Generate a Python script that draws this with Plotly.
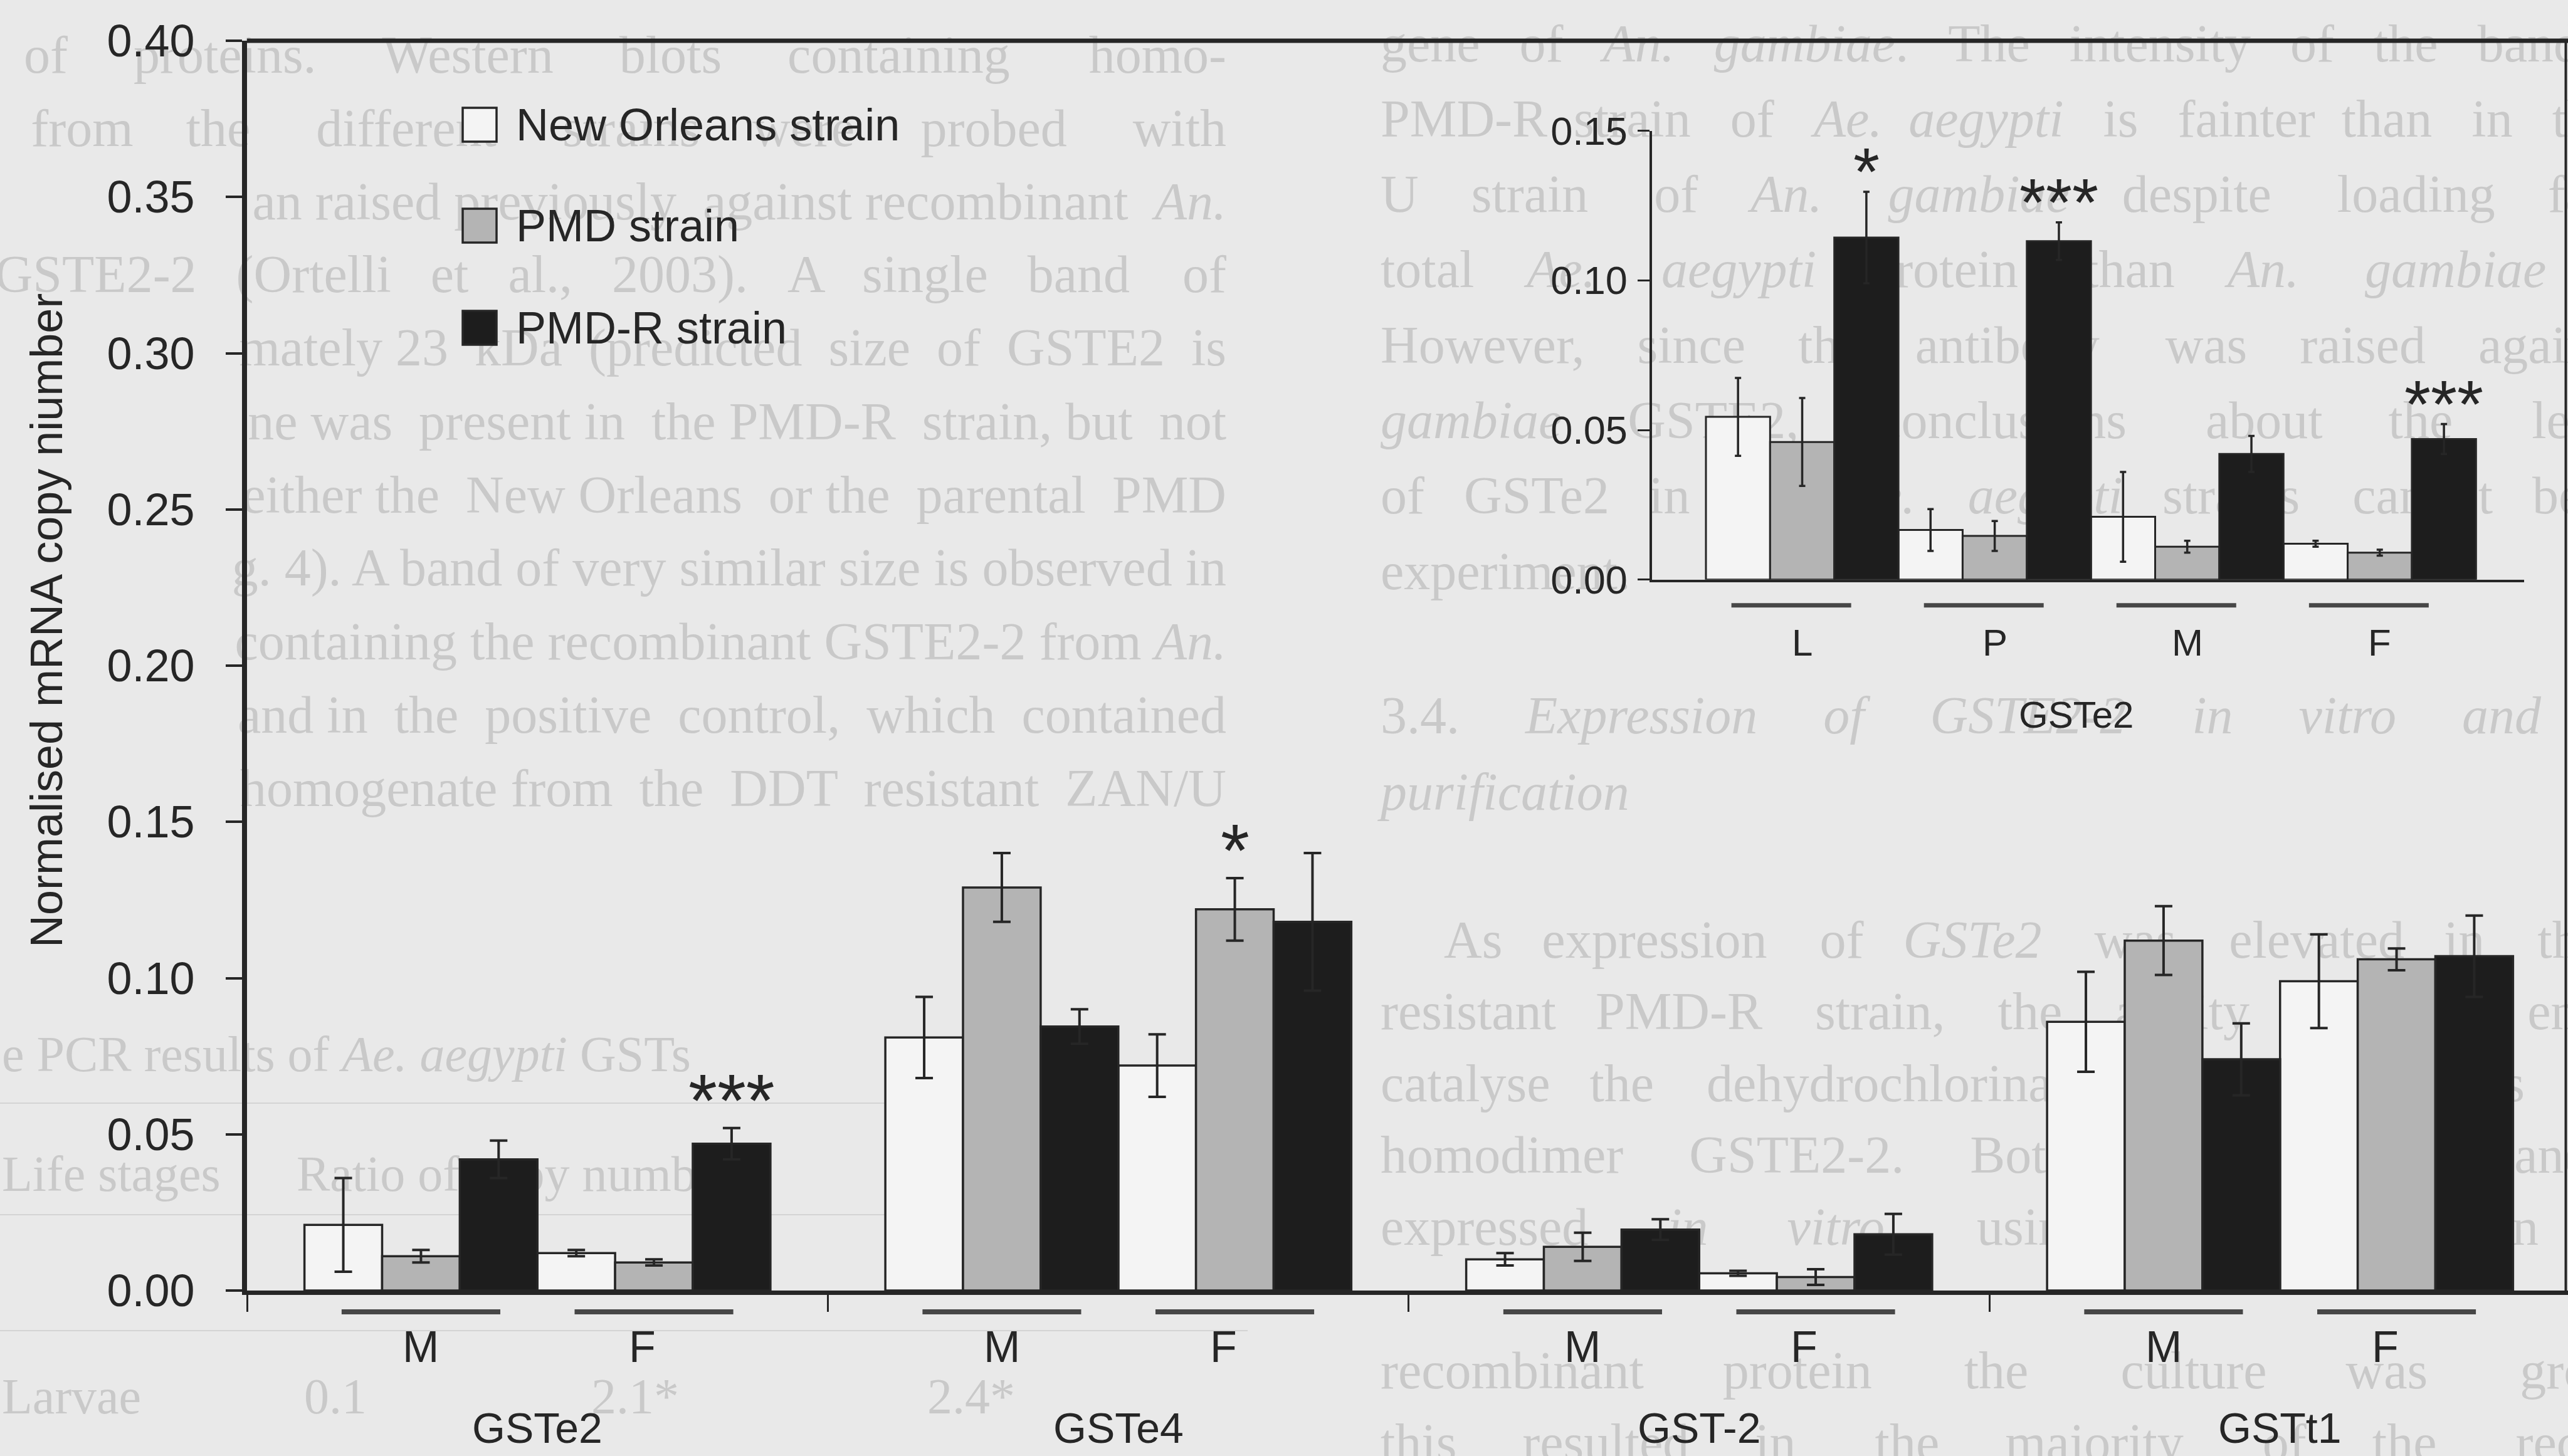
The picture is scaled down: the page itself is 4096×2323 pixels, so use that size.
import re
import plotly.graph_objects as go

# ---------------- data ----------------
genes = ["GSTe2", "GSTe4", "GST-2", "GSTt1"]
sexes = ["M", "F"]
strain_names = ["New Orleans strain", "PMD strain", "PMD-R strain"]

# main panel, ordered GSTe2 M, GSTe2 F, GSTe4 M, GSTe4 F, GST-2 M, GST-2 F, GSTt1 M, GSTt1 F
new_orleans = [0.021, 0.012, 0.081, 0.072, 0.010, 0.0055, 0.086, 0.099]
new_orleans_err = [0.015, 0.001, 0.013, 0.010, 0.002, 0.0008, 0.016, 0.015]
pmd = [0.011, 0.009, 0.129, 0.122, 0.014, 0.0043, 0.112, 0.106]
pmd_err = [0.002, 0.001, 0.011, 0.010, 0.0045, 0.0025, 0.011, 0.0035]
pmd_r = [0.042, 0.047, 0.0845, 0.118, 0.0195, 0.018, 0.074, 0.107]
pmd_r_err = [0.006, 0.005, 0.0055, 0.022, 0.0033, 0.0065, 0.0115, 0.013]
main_signif = [(1, 2, "***"), (3, 1, "*")]  # (gene/sex index, strain index, label)

# inset: GSTe2 through the life stages
stages = ["L", "P", "M", "F"]
inset_new_orleans = [0.0544, 0.0166, 0.021, 0.012]
inset_new_orleans_err = [0.013, 0.007, 0.015, 0.001]
inset_pmd = [0.046, 0.0146, 0.011, 0.009]
inset_pmd_err = [0.0147, 0.005, 0.002, 0.001]
inset_pmd_r = [0.1143, 0.1131, 0.042, 0.047]
inset_pmd_r_err = [0.0153, 0.0063, 0.006, 0.005]
inset_signif = [(0, 2, "*"), (1, 2, "***"), (3, 2, "***")]

main_ticks = [0.0, 0.05, 0.10, 0.15, 0.20, 0.25, 0.30, 0.35, 0.40]
inset_ticks = [0.0, 0.05, 0.10, 0.15]

# page text around the figure
left_text = [
    "of proteins. Western blots containing homo-",
    "from the different strains were probed with",
    "an raised previously against recombinant <i>An.</i>",
    "GSTE2-2 (Ortelli et al., 2003). A single band of",
    "mately 23 kDa (predicted size of GSTE2 is",
    "ne was present in the PMD-R strain, but not",
    "either the New Orleans or the parental PMD",
    "g. 4). A band of very similar size is observed in",
    "containing the recombinant GSTE2-2 from <i>An.</i>",
    "and in the positive control, which contained",
    "homogenate from the DDT resistant ZAN/U",
]
left_measure = [1920, 1907, 1567, 1970, 1567, 1567, 1567, 1567, 1567, 1567, 1567]
right_text = [
    "gene of <i>An. gambiae</i>. The intensity of the band in the",
    "PMD-R strain of <i>Ae. aegypti</i> is fainter than in the ZAN/",
    "U strain of <i>An. gambiae</i> despite loading far more",
    "total <i>Ae. aegypti</i> protein than <i>An. gambiae</i> protein.",
    "However, since the antibody was raised against <i>An.</i>",
    "<i>gambiae</i> GSTE2, conclusions about the levels of",
    "of GSTe2 in the <i>Ae. aegypti</i> strains cannot be drawn",
    "experiment.",
]
heading_text = ["3.4. <i>Expression of GSTE2-2 in vitro and protein</i>", "<i>purification</i>"]
para_text = [
    "As expression of <i>GSTe2</i> was elevated in the DDT",
    "resistant PMD-R strain, the ability of this enzyme to",
    "catalyse the dehydrochlorination of DDT was examined",
    "homodimer GSTE2-2. Both the PMD-R and PMD",
    "expressed <i>in vitro</i> using the expression system",
    "recombinant protein the culture was grown at",
    "this resulted in the majority of the recombinant",
]
table_caption = "e PCR results of <i>Ae. aegypti</i> GSTs"
table_header = ["Life stages", "Ratio of copy number"]
table_row = ["Larvae", "0.1", "2.1*", "2.4*"]

# ---------------- styling ----------------
W, H = 4096, 2323
PL, PR, PT, PB = 394, 4096, 65, 2059
BG = "#e9e9e9"
INK = "#262626"
FAINT = "#c9c9c9"
SANS = "Liberation Sans, Arial, sans-serif"
SERIF = "Liberation Serif, Times New Roman, serif"
fills = ["#f4f4f4", "#b4b4b4", "#1d1d1d"]
BW = 0.1337  # bar width in group units
INSET_DOM_X = [0.60548, 0.98114]
INSET_DOM_Y = [0.5688, 0.9280]
BODY = 84

# approximate serif advance widths (em) used to space justified lines
SERIF_W = dict(zip("abcdefghijklmnopqrstuvwxyz",
                   [.444, .5, .444, .5, .444, .333, .5, .5, .278, .278, .5, .278, .778,
                    .5, .5, .5, .5, .333, .389, .278, .5, .5, .722, .5, .5, .444]))
SERIF_W.update(dict(zip("ABCDEFGHIJKLMNOPQRSTUVWXYZ",
                        [.722, .667, .667, .722, .611, .556, .722, .722, .333, .389, .722,
                         .611, .889, .722, .722, .556, .722, .667, .556, .611, .722, .722,
                         .944, .722, .722, .611])))
SERIF_W.update({" ": .25, ".": .25, ",": .25, "(": .333, ")": .333, "-": .333,
                "/": .278, "*": .5})


def serif_width(text, size):
    plain = re.sub(r"<[^>]+>", "", text)
    return sum(SERIF_W.get(c, .5) for c in plain) * size


def justify(text, size, target):
    extra = target - serif_width(text, size)
    parts = text.split(" ")
    gaps = len(parts) - 1
    if extra <= 0 or gaps == 0:
        return text
    n = int(round(extra / (0.25 * size)))
    out = parts[0]
    for gi, p in enumerate(parts[1:]):
        k = n * (gi + 1) // gaps - n * gi // gaps
        out += " " + "\u00a0" * k + p
    return out


def px(X):
    return (X - PL) / (PR - PL)


def py(Y):
    return (PB - Y) / (PB - PT)


def main_x(i, k):
    g, s = divmod(i, 2)
    return g + (3 * s + k - 2.5) * BW


def inset_x(j, k):
    return 3 * j + k


fig = go.Figure()

main_vals = [new_orleans, pmd, pmd_r]
main_errs = [new_orleans_err, pmd_err, pmd_r_err]
for k in range(3):
    fig.add_trace(go.Bar(
        x=[main_x(i, k) for i in range(8)], y=main_vals[k], width=BW,
        marker=dict(color=fills[k], line=dict(color=INK, width=3.5)),
        error_y=dict(type="data", array=main_errs[k], color=INK, thickness=4, width=14),
        name=strain_names[k], showlegend=False, xaxis="x", yaxis="y"))

inset_vals = [inset_new_orleans, inset_pmd, inset_pmd_r]
inset_errs = [inset_new_orleans_err, inset_pmd_err, inset_pmd_r_err]
for k in range(3):
    fig.add_trace(go.Bar(
        x=[inset_x(j, k) for j in range(4)], y=inset_vals[k], width=1,
        marker=dict(color=fills[k], line=dict(color=INK, width=3)),
        error_y=dict(type="data", array=inset_errs[k], color=INK, thickness=3.5, width=5),
        name=strain_names[k], showlegend=False, xaxis="x2", yaxis="y2"))

shapes = []
annotations = []


def bg_line(text, X, Y, anchor="left", size=BODY):
    if anchor == "left":
        x0, x1, pos = px(X), px(X + 50), "middle left"
    else:
        x0, x1, pos = px(X - 50), px(X), "middle right"
    shapes.append(dict(
        type="rect", xref="paper", yref="paper", x0=x0, x1=x1,
        y0=py(Y + 10), y1=py(Y - 10), layer="below",
        line=dict(width=0), fillcolor="rgba(0,0,0,0)",
        label=dict(text=text, textposition=pos, padding=0,
                   font=dict(family=SERIF, size=size, color=FAINT))))


COL = 2230  # column measure in px
for i, (t, m) in enumerate(zip(left_text, left_measure)):
    bg_line(justify(t, BODY, m), 1959, 78 + i * 117, anchor="right")
for i, t in enumerate(right_text):
    last = i == len(right_text) - 1
    bg_line(t if last else justify(t, BODY, COL), 2199, 60 + i * 120.3)
bg_line(justify(heading_text[0], BODY, COL), 2199, 1132)
bg_line(heading_text[1], 2199, 1254)
for i, t in enumerate(para_text):
    row = i if i < 5 else i + 1
    indent = 101 if i == 0 else 0
    bg_line(justify(t, BODY, COL - indent), 2199 + indent, 1490 + row * 114.6)
bg_line(table_caption, 0, 1673, size=80)
bg_line(table_header[0], 0, 1864, size=80)
bg_line(table_header[1], 470, 1864, size=80)
for t, X in zip(table_row, [0, 482, 940, 1476]):
    bg_line(t, X, 2219, size=80)
for Y in [1760, 1938, 2123]:
    shapes.append(dict(type="line", xref="paper", yref="paper", x0=px(0), x1=px(1990),
                       y0=py(Y), y1=py(Y), layer="below",
                       line=dict(color="#d4d4d4", width=2)))

# frame: top edge and right edge of the main panel
shapes.append(dict(type="line", xref="paper", yref="paper", x0=0, x1=1, y0=1, y1=1,
                   line=dict(color=INK, width=7)))
shapes.append(dict(type="line", xref="paper", yref="paper", x0=px(4092.5), x1=px(4092.5),
                   y0=0, y1=1, line=dict(color=INK, width=4)))

# main panel category underlines and labels
main_under_y = -34 / (PB - PT)
for g, gene in enumerate(genes):
    for s, sex in enumerate(sexes):
        c = g + (3 * s - 1.5) * BW
        shapes.append(dict(type="line", xref="x", yref="paper", x0=c - 0.1366, x1=c + 0.1366,
                           y0=main_under_y, y1=main_under_y,
                           line=dict(color="#474747", width=8)))
        annotations.append(dict(x=c - 0.02 * s, y=0, xref="x", yref="y", text=sex,
                                showarrow=False, yshift=-90, yanchor="middle",
                                font=dict(family=SANS, size=70, color=INK)))
    annotations.append(dict(x=g, y=0, xref="x", yref="y", text=gene, showarrow=False,
                            yshift=-219, yanchor="middle",
                            font=dict(family=SANS, size=68, color=INK)))

# inset category underlines and labels
inset_under_y = INSET_DOM_Y[0] - 41 / (PB - PT)
for j, st in enumerate(stages):
    c = 3 * j + 1
    shapes.append(dict(type="line", xref="x2", yref="paper",
                       x0=c - 0.17 - 0.933, x1=c - 0.17 + 0.933,
                       y0=inset_under_y, y1=inset_under_y,
                       line=dict(color="#474747", width=7)))
    annotations.append(dict(x=c, y=0, xref="x2", yref="y2", text=st, showarrow=False,
                            yshift=-101, yanchor="middle",
                            font=dict(family=SANS, size=60, color=INK)))
annotations.append(dict(x=5.27, y=0, xref="x2", yref="y2", text="GSTe2", showarrow=False,
                        yshift=-216, yanchor="middle",
                        font=dict(family=SANS, size=60, color=INK)))

# significance marks
for i, k, lab in main_signif:
    annotations.append(dict(x=main_x(i, k), y=main_vals[k][i] + main_errs[k][i],
                            xref="x", yref="y", text=lab, showarrow=False,
                            yanchor="middle", yshift=44,
                            font=dict(family=SANS, size=118, color=INK)))
for j, k, lab in inset_signif:
    annotations.append(dict(x=inset_x(j, k), y=inset_vals[k][j] + inset_errs[k][j],
                            xref="x2", yref="y2", text=lab, showarrow=False,
                            yanchor="middle", yshift=32,
                            font=dict(family=SANS, size=108, color=INK)))

# legend
for k, (name, Y) in enumerate(zip(strain_names, [199, 360, 523])):
    shapes.append(dict(type="rect", xref="paper", yref="paper",
                       x0=px(738), x1=px(792), y0=py(Y + 27), y1=py(Y - 27),
                       fillcolor=fills[k], line=dict(color=INK, width=3.5)))
    annotations.append(dict(x=px(821), y=py(Y), xref="paper", yref="paper", text=name,
                            showarrow=False, xanchor="left", yanchor="middle",
                            font=dict(family=SANS, size=72, color=INK)))

# y-axis title
annotations.append(dict(x=px(74), y=py(990), xref="paper", yref="paper",
                        text="Normalised mRNA copy niumber", textangle=-90,
                        showarrow=False, xanchor="center", yanchor="middle",
                        font=dict(family=SANS, size=72, color=INK)))

fig.update_layout(
    width=W, height=H,
    margin=dict(l=PL, r=W - PR, t=PT, b=H - PB, pad=0),
    paper_bgcolor=BG, plot_bgcolor="rgba(0,0,0,0)",
    barmode="overlay", showlegend=False,
    font=dict(family=SANS, color=INK),
    xaxis=dict(domain=[0, 1], range=[-0.5, 3.4957], showline=True, linecolor=INK,
               linewidth=7, ticks="outside", tickvals=[-0.5, 0.5, 1.5, 2.5],
               ticklen=27, tickwidth=3, tickcolor=INK, showticklabels=False,
               showgrid=False, zeroline=False),
    yaxis=dict(domain=[0, 1], range=[0, 0.40], showline=True, linecolor=INK,
               linewidth=8, ticks="outside", tickvals=main_ticks, tickformat=".2f",
               ticklen=26, tickwidth=4, tickcolor=INK, ticklabelstandoff=35,
               tickfont=dict(family=SANS, size=72, color=INK),
               showgrid=False, zeroline=False),
    xaxis2=dict(domain=INSET_DOM_X, anchor="y2", range=[-1.3353, 12.251],
                showline=True, linecolor=INK, linewidth=4, ticks="",
                showticklabels=False, showgrid=False, zeroline=False),
    yaxis2=dict(domain=INSET_DOM_Y, anchor="x2", range=[0, 0.15], showline=True,
                linecolor=INK, linewidth=4, ticks="outside", tickvals=inset_ticks,
                tickformat=".2f", ticklen=19, tickwidth=3, tickcolor=INK,
                ticklabelstandoff=4, tickfont=dict(family=SANS, size=63, color=INK),
                showgrid=False, zeroline=False),
    shapes=shapes,
    annotations=annotations,
)

fig.write_html("out.html")
